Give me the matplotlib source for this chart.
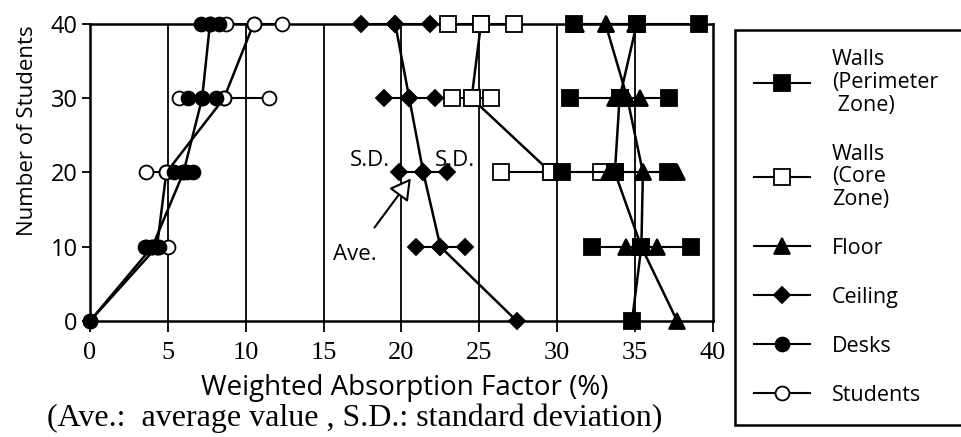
import matplotlib
matplotlib.use("Agg")
import matplotlib.pyplot as plt
from matplotlib.lines import Line2D

# ---- data ----
levels = [10, 20, 30, 40]          # number of students
x_ticks = [0, 5, 10, 15, 20, 25, 30, 35, 40]
y_ticks = [0, 10, 20, 30, 40]

names = ["Walls\n(Perimeter\n Zone)", "Walls\n(Core\nZone)", "Floor", "Ceiling", "Desks", "Students"]

# value at 0 students (None = no point)
perim_zero = 34.8
core_zero = None
floor_zero = 37.7
ceil_zero = 27.4
desk_zero = 0.0
stud_zero = 0.0

# averages at 10, 20, 30, 40 students (None = no data)
perim_ave = [35.4, 33.7, 34.0, 35.1]
core_ave = [None, 29.6, 24.5, 25.1]
floor_ave = [35.4, 35.5, 34.5, 33.1]
ceil_ave = [22.5, 21.4, 20.5, 19.6]
desk_ave = [4.0, 6.0, 7.2, 7.7]
stud_ave = [4.3, 4.9, 8.6, 10.5]

# standard deviations at 10, 20, 30, 40 students
perim_sd = [3.2, 3.4, 3.2, 4.0]
core_sd = [None, 3.2, 1.25, 2.1]
floor_sd = [1.0, 2.2, 0.8, 1.9]
ceil_sd = [1.6, 1.55, 1.65, 2.2]
desk_sd = [0.45, 0.6, 0.9, 0.6]
stud_sd = [0.7, 1.3, 2.9, 1.8]

series = [
    (perim_zero, perim_ave, perim_sd, dict(marker="s", mfc="black", ms=11), 5),
    (core_zero, core_ave, core_sd, dict(marker="s", mfc="white", ms=11), 3),
    (floor_zero, floor_ave, floor_sd, dict(marker="^", mfc="black", ms=11), 4),
    (ceil_zero, ceil_ave, ceil_sd, dict(marker="D", mfc="black", ms=8), 3),
    (desk_zero, desk_ave, desk_sd, dict(marker="o", mfc="black", ms=10), 4),
    (stud_zero, stud_ave, stud_sd, dict(marker="o", mfc="white", ms=10), 3),
]

SANS = ["Open Sans", "DejaVu Sans"]
SERIF = ["Liberation Serif", "DejaVu Serif"]

fig = plt.figure(figsize=(9.62, 4.37), dpi=100)
ax = fig.add_axes([90 / 962, 1 - 321 / 437, 623 / 962, 297 / 437])
ax.set_xlim(0, 40)
ax.set_ylim(0, 40)

for v in x_ticks[1:-1]:
    ax.axvline(v, color="black", lw=1.3, zorder=1)

for zero, ave, sd, st, z in series:
    # horizontal S.D. bars
    for y, a, s in zip(levels, ave, sd):
        if a is None:
            continue
        ax.plot([a - s, a, a + s], [y, y, y], color="black", lw=1.5,
                mec="black", mew=1.3, clip_on=False, zorder=z, **st)
    # average line
    xs, ys = [], []
    if zero is not None:
        xs.append(zero); ys.append(0)
    for y, a in zip(levels, ave):
        if a is not None:
            xs.append(a); ys.append(y)
    ax.plot(xs, ys, color="black", lw=1.8, mec="black", mew=1.3,
            clip_on=False, zorder=z, **st)

for sp in ax.spines.values():
    sp.set_linewidth(1.8)

ax.set_xticks(x_ticks)
ax.set_yticks(y_ticks)
ax.set_xticklabels([str(v) for v in x_ticks], family=SERIF, fontsize=19)
ax.set_yticklabels([str(v) for v in y_ticks], family=SANS, fontsize=17)
ax.tick_params(axis="x", direction="out", length=8, width=1.3, pad=7)
ax.tick_params(axis="y", direction="out", length=6, width=1.3, pad=3)

ax.set_ylabel("Number of Students", family=SANS, fontsize=16)
ax.yaxis.set_label_coords(-0.084, 0.64)

fig.text(405 / 962, 1 - 388 / 437, "Weighted Absorption Factor (%)", family=SANS,
         fontsize=20, ha="center", va="center")
fig.text(355 / 962, 1 - 418 / 437, "(Ave.:  average value , S.D.: standard deviation)",
         family=SERIF, fontsize=23, ha="center", va="center")

# annotations
ax.text(18.0, 21.6, "S.D.", family=SANS, fontsize=16, ha="center", va="center")
ax.text(23.4, 21.6, "S.D.", family=SANS, fontsize=16, ha="center", va="center")
ax.annotate("Ave.", xy=(20.6, 19.2), xytext=(17.0, 9.0), family=SANS, fontsize=16,
            ha="center", va="center",
            arrowprops=dict(arrowstyle="-|>,head_length=0.8,head_width=0.45",
                            fc="white", ec="black", lw=1.5, shrinkA=12, shrinkB=0))

# legend
handles = [Line2D([0], [0], color="black", lw=1.5, mec="black", mew=1.3, **st)
           for _, _, _, st, _ in series]
leg = fig.legend(handles, names, loc="upper left",
                 bbox_to_anchor=(735 / 962, 1 - 30 / 437, 240 / 962, 0.0), mode="expand",
                 borderaxespad=0.0,
                 prop={"family": SANS, "size": 15.5}, frameon=True, fancybox=False,
                 edgecolor="black", framealpha=1, handlelength=2.6,
                 handletextpad=1.0, labelspacing=1.3, borderpad=0.9)
leg.get_frame().set_linewidth(1.8)
for t in leg.get_texts():
    t.set_linespacing(1.1)

fig.savefig("out.png", dpi=100)
